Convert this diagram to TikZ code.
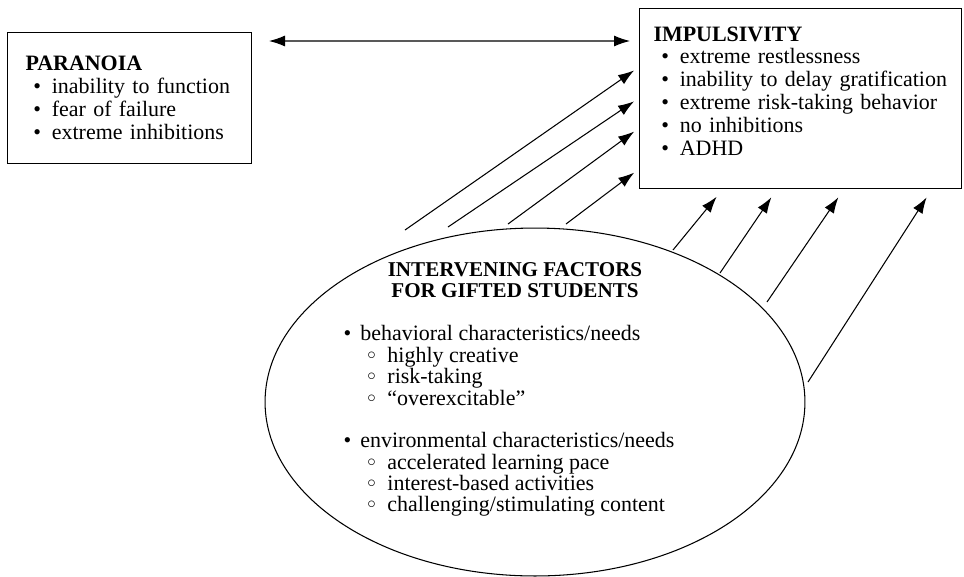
\documentclass[tikz,border=0pt]{standalone}
\usepackage{fontspec}
\setmainfont{Liberation Serif}
\usetikzlibrary{arrows.meta,shapes.geometric}
\newcommand{\bitem}[1]{\hspace*{4.5pt}\makebox[10.5pt][l]{\textbullet}#1}
\newcommand{\eitem}[1]{\makebox[9.6pt][l]{\textbullet}#1}
\newcommand{\sitem}[1]{\hspace*{13.6pt}\makebox[11.4pt][l]{\raisebox{0.3ex}{\scalebox{0.8}{$\circ$}}}#1}
\begin{document}
\begin{tikzpicture}[x=0.02cm, y=-0.02cm, line width=0.6pt,
  box/.style={draw, rectangle, anchor=north west, align=left, inner ysep=0pt, font=\fontsize{12.5}{13}\selectfont},
  link/.style={-{Latex[length=3.2mm,width=2.2mm]}}]
\useasboundingbox (0,0) rectangle (964,576);
% the two outcome boxes
\node[box, inner xsep=0.36cm, text width=4.16cm, minimum height=2.62cm] (paranoia) at (7,32)
  {\textbf{PARANOIA}\\ \bitem{inability to function}\\ \bitem{fear of failure}\\ \bitem{extreme inhibitions}};
\node[box, inner xsep=0.28cm, text width=5.88cm, minimum height=3.6cm] (impulsivity) at (639,8)
  {\textbf{IMPULSIVITY}\\ \bitem{extreme restlessness}\\ \bitem{inability to delay gratification}\\
   \bitem{extreme risk-taking behavior}\\ \bitem{no inhibitions}\\ \bitem{ADHD}\rule[-8.6pt]{0pt}{0pt}};
% the oval
\node[draw, ellipse, inner sep=0pt, minimum width=10.8cm, minimum height=6.96cm] (factors) at (535,402) {};
\node[align=center, font=\fontsize{12}{12.2}\selectfont\bfseries] (factors title) at (515,280)
  {INTERVENING FACTORS\\FOR GIFTED STUDENTS};
\node[align=left, anchor=north west, inner sep=0pt, font=\fontsize{12.5}{12.2}\selectfont] (factors list) at (343,325)
  {\eitem{behavioral characteristics/needs}\\ \sitem{highly creative}\\ \sitem{risk-taking}\\ \sitem{``overexcitable''}\\[12pt]
   \eitem{environmental characteristics/needs}\\ \sitem{accelerated learning pace}\\ \sitem{interest-based activities}\\
   \sitem{challenging/stimulating content}};
\draw[{Latex[length=3.2mm,width=2.2mm]}-{Latex[length=3.2mm,width=2.2mm]}, shorten <=0.34cm, shorten >=0.18cm]
  ([yshift=-0.18cm]paranoia.north east) -- ([yshift=-0.66cm]impulsivity.north west);
% arrows from the oval into IMPULSIVITY
\foreach \sx/\sy/\ty [count=\i] in {405/230/122, 448/227/91, 508/224/61, 566/224/20}
{
  \coordinate (tail\i) at (\sx,\sy);
  \draw[link, shorten >=0.12cm] (tail\i) -- ([yshift=\ty*0.02cm]impulsivity.south west);
}
\foreach \sx/\sy/\tx [count=\i] in {673/250/84, 720/273/138, 767/302/205, 808/382/293}
{
  \coordinate (foot\i) at (\sx,\sy);
  \draw[link, shorten >=0.2cm] (foot\i) -- ([xshift=\tx*0.02cm]impulsivity.south west);
}
\end{tikzpicture}
\end{document}
